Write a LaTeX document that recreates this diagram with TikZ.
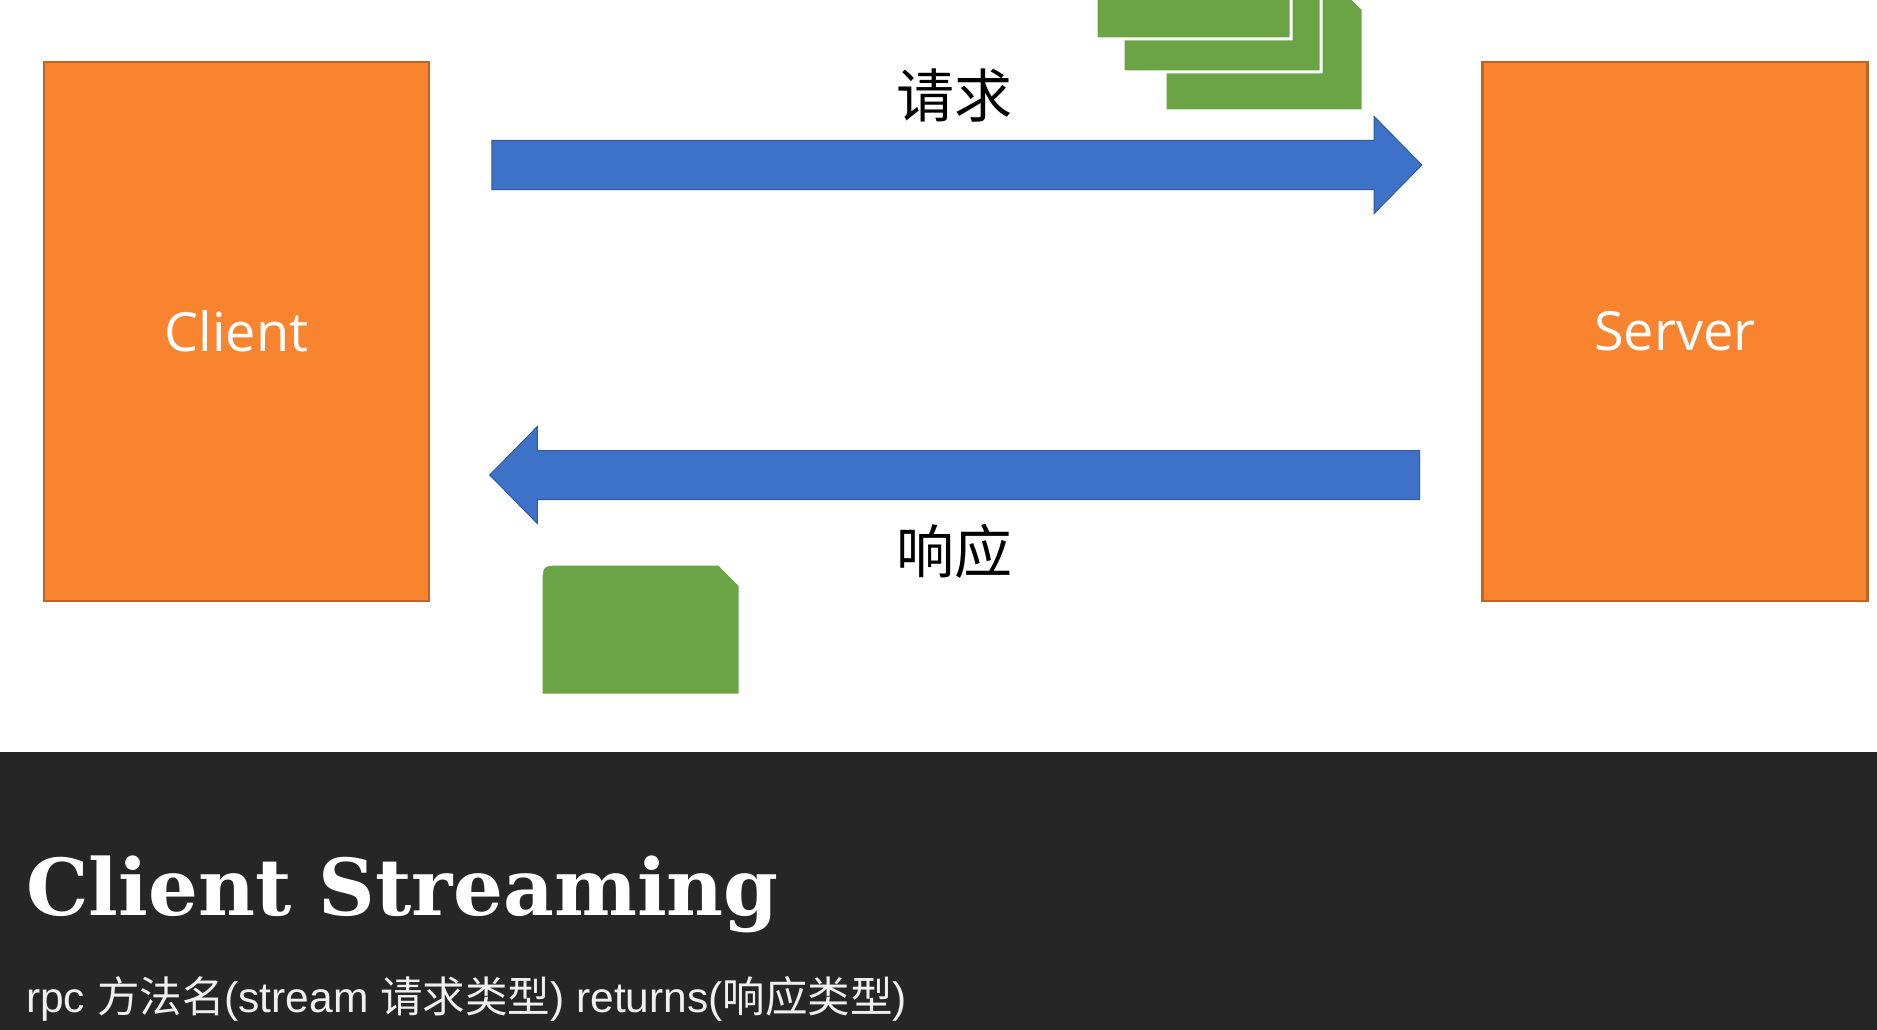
\documentclass[tikz,border=0pt]{standalone}
\usepackage{fontspec}
\setmainfont{Liberation Sans}
\newfontfamily\cjk{Noto Sans CJK SC}
\newfontfamily\boxfont{Open Sans}
\newfontfamily\titlefont{DejaVu Serif}
\usetikzlibrary{positioning, shapes.arrows, calc}

\definecolor{boxorange}{HTML}{F8842F}
\definecolor{boxedge}{HTML}{BF6425}
\definecolor{arrowblue}{HTML}{3E72C8}
\definecolor{arrowedge}{HTML}{2F5A9E}
\definecolor{docgreen}{HTML}{6AA444}
\definecolor{bandgray}{HTML}{262626}

\tikzset{
  endpoint/.style={draw=boxedge, line width=2.5pt, fill=boxorange, minimum width=385pt,
    minimum height=539pt, text=white, font=\boxfont\fontsize{54}{60}\selectfont},
  bigarrow/.style={single arrow, draw=arrowedge, line width=1pt, fill=arrowblue,
    minimum height=930pt, inner xsep=0pt, inner ysep=24pt,
    single arrow head extend=24pt, single arrow tip angle=91},
  cnlabel/.style={font=\cjk\fontsize{58}{62}\selectfont},
  doc/.style={fill=docgreen, draw=white, line width=3pt},
}

\begin{document}
\begin{tikzpicture}[x=1pt, y=-1pt]
        \useasboundingbox (0,0) rectangle (1877,1030);
        \fill[white] (0,0) rectangle (1877,1030);

        % Nodes
        \node[endpoint] (client) at (236.5,331.5) {Client};
        \node[endpoint] (server) at (1675,331.5)  {Server};
        \coordinate (mid) at ($(client.east)!.5!(server.west)$);

        % Arrows
        \node[bigarrow] (req) at ([xshift=-11pt, yshift=166.5pt]mid) {};
        \node[bigarrow, shape border rotate=180] (resp) at ([xshift=11pt, yshift=-143.5pt]mid) {};
        \node[cnlabel] (reqlabel)  at (954,96)  {请求};
        \node[cnlabel] (resplabel) at (954,551) {响应};

        % Messages
        \begin{scope}
          \clip (0,0) rectangle (1877,1030);
          \draw[doc] (1165,111) -- (1165,10) .. controls (1165,-12) .. (1187,-12) -- (1342,-12) -- (1363,9) -- (1363,111) -- cycle;
          \draw[doc] (1123,72) -- (1123,-37) .. controls (1123,-59) .. (1145,-59) -- (1300,-59) -- (1321,-38) -- (1321,72) -- cycle;
          \draw[doc] (1096,39) -- (1096,-72) .. controls (1096,-94) .. (1118,-94) -- (1270,-94) -- (1291,-73) -- (1291,39) -- cycle;
        \end{scope}
        \draw[doc] (541,695) -- (541,586) .. controls (541,564) .. (563,564) -- (719,564) -- (740,585) -- (740,695) -- cycle;

        % Caption
        \fill[bandgray] (0,752) rectangle (1877,1030);
        \node[anchor=base west, inner sep=0pt, text=white,
              font=\titlefont\bfseries\fontsize{78.5}{80}\selectfont] (title) at (26,915) {Client Streaming};
        \node[anchor=base west, inner sep=0pt, text=white!94!black,
              font=\fontsize{42.5}{46}\selectfont] (sig) at (26,1012)
              {rpc {\cjk 方法名}(stream {\cjk 请求类型}) returns({\cjk 响应类型})};
\end{tikzpicture}
\end{document}
